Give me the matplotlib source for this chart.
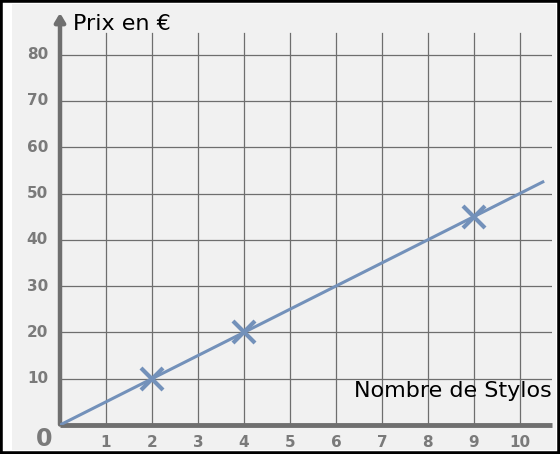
import numpy as np
import matplotlib.pyplot as plt
from matplotlib.patches import Rectangle

# données
x_points = [2, 4, 9]
y_points = [10, 20, 45]
x_line = [0, 10.5]
y_line = [0, 52.5]
x_ticks = [1, 2, 3, 4, 5, 6, 7, 8, 9, 10]
y_ticks = [10, 20, 30, 40, 50, 60, 70, 80]

W, H = 560, 454
fig = plt.figure(figsize=(W / 100, H / 100), dpi=100)
fig.patch.set_facecolor("white")

# fond gris clair
bg = fig.add_axes([12 / W, 4 / H, (W - 16) / W, (H - 8) / H])
bg.set_facecolor("#f1f1f1")
bg.set_xticks([])
bg.set_yticks([])
for s in bg.spines.values():
    s.set_visible(False)

# repère
left, right, bottom, top = 60, 552, 454 - 425, 454 - 10
ax = fig.add_axes([left / W, bottom / H, (right - left) / W, (top - bottom) / H])
ax.set_xlim(0, 10.7)
ax.set_ylim(0, (425 - 10) / 4.63)
ax.patch.set_alpha(0)
for s in ax.spines.values():
    s.set_visible(False)
ax.set_xticks([])
ax.set_yticks([])

grid_c = "#6e6e6e"
for xv in x_ticks:
    ax.plot([xv, xv], [0, 84.7], color=grid_c, lw=0.9, zorder=1)
for yv in y_ticks:
    ax.plot([0, 10.7], [yv, yv], color=grid_c, lw=0.9, zorder=1)

axis_c = "#6f6f6f"
ax.plot([0, 10.7], [0, 0], color=axis_c, lw=3.5, zorder=3, solid_capstyle="butt",
        clip_on=False)
ax.annotate("", xy=(0, 89.6), xytext=(0, -0.5),
            arrowprops=dict(arrowstyle="-|>,head_length=0.5,head_width=0.3", color=axis_c,
                            lw=3.2, fill=False), zorder=3)

line_c = "#7391ba"
ax.plot(x_line, y_line, color=line_c, lw=2.2, zorder=4)
ax.plot(x_points, y_points, "x", color=line_c, ms=16, mew=3, zorder=5)

lab_c = "#7a7a7a"
for xv in x_ticks:
    ax.text(xv, -3.7, str(xv), ha="center", va="center", color=lab_c, fontsize=11,
            fontweight="bold")
for yv in y_ticks:
    ax.text(-0.26, yv, str(yv), ha="right", va="center", color=lab_c, fontsize=11,
            fontweight="bold")
ax.text(-0.35, -3.0, "0", ha="center", va="center", color=lab_c, fontsize=17,
        fontweight="bold")

ax.text(0.28, 85.3, "Prix en €", ha="left", va="baseline", fontsize=16, color="black")
ax.text(10.7, 6.0, "Nombre de Stylos", ha="right", va="baseline", fontsize=16,
        color="black")

# cadre noir
fig.patches.append(Rectangle((0, 0), 1, 1, transform=fig.transFigure, fill=False,
                             edgecolor="black", lw=4))

plt.savefig("out.png", dpi=100)
